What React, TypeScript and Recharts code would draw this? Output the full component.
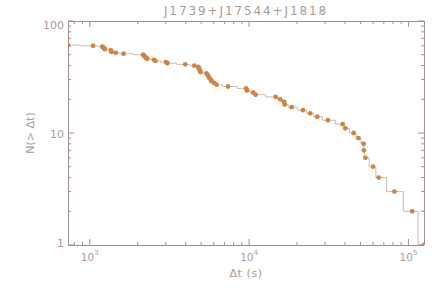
import { LineChart, Line, XAxis, YAxis } from 'recharts';

// waiting times (s), ascending, and cumulative count N(> dt)
const DT = [
    730, 1049, 1199, 1216, 1234, 1243, 1356, 1361, 1369, 1457,
    1629, 2164, 2186, 2218, 2250, 2293, 2526, 2582, 3006, 3072,
    3976, 4529, 4799, 4834, 4869, 4918, 4954, 5404, 5483, 5563,
    5628, 5742, 5818, 6025, 6245, 7379, 9575, 9714, 10597, 10987,
    14680, 15668, 16555, 16723, 18511, 21765, 24189, 26770, 31260, 38637,
    40180, 45290, 48470, 52360, 52500, 53650, 59980, 65060, 81660, 105500,
    125200
];
const N = [
    61, 60, 59, 58, 57, 56, 55, 54, 53, 52,
    51, 50, 49, 48, 47, 46, 45, 44, 43, 42,
    41, 40, 39, 38, 37, 36, 35, 34, 33, 32,
    31, 30, 29, 28, 27, 26, 25, 24, 23, 22,
    21, 20, 19, 18, 17, 16, 15, 14, 13, 12,
    11, 10, 9, 8, 7, 6, 5, 4, 3, 2,
    1
];

const X_TICKS = [
    800, 900, 1000, 2000, 3000, 4000, 5000, 6000, 7000, 8000, 9000,
    10000, 20000, 30000, 40000, 50000, 60000, 70000, 80000, 90000, 100000
];
const X_MAJOR = [1000, 10000, 100000];
const Y_TICKS = [1, 2, 3, 4, 5, 6, 7, 8, 9, 10, 20, 30, 40, 50, 60, 70, 80, 90, 100];
const Y_MAJOR = [1, 10, 100];
const Y_LABEL_DY: Record<number, number> = { 1: 1.5, 10: 4.5, 100: 8 };

const FRAME = '#a38f8f';
const TEXT = '#ab9a9a';
const LINE = '#c9bbbb';
const DOT = '#cf8443';
const FONT = 'DejaVu Sans';

const data = DT.map((dt, i) => ({ dt, n: N[i] }));

const BottomTick = (props: any) => {
    const { x, y, payload } = props;
    const v = payload.value;
    const major = X_MAJOR.includes(v);
    return (
        <g>
            <line x1={x} x2={x} y1={y} y2={y - (major ? 6 : 3)} stroke={FRAME} />
            {major && (
                <text x={x} y={y + 16} textAnchor="middle" fill={TEXT} fontSize={10.5} fontFamily={FONT}>
                    10<tspan dy={-6} fontSize={7}>{Math.round(Math.log10(v))}</tspan>
                </text>
            )}
        </g>
    );
};

const TopTick = (props: any) => {
    const { x, y, payload } = props;
    const major = X_MAJOR.includes(payload.value);
    return <line x1={x} x2={x} y1={y} y2={y + (major ? 6 : 3)} stroke={FRAME} />;
};

const LeftTick = (props: any) => {
    const { x, y, payload } = props;
    const v = payload.value;
    const major = Y_MAJOR.includes(v);
    return (
        <g>
            <line x1={x} x2={x + (major ? 6 : 3)} y1={y} y2={y} stroke={FRAME} />
            {major && (
                <text x={x - 4} y={y + Y_LABEL_DY[v]} textAnchor="end" fill={TEXT} fontSize={11} fontFamily={FONT}>
                    {v}
                </text>
            )}
        </g>
    );
};

const RightTick = (props: any) => {
    const { x, y, payload } = props;
    const major = Y_MAJOR.includes(payload.value);
    return <line x1={x} x2={x - (major ? 6 : 3)} y1={y} y2={y} stroke={FRAME} />;
};

const axisLine = { stroke: FRAME, shapeRendering: 'crispEdges' };

export default function App() {
    return (
        <div style={{ position: 'relative', width: 445, height: 289, background: '#fff' }}>
            <style>{'body{margin:0}'}</style>
            <LineChart width={445} height={289} data={data} margin={{ top: 0, right: 0, bottom: 0, left: 0 }}>
                <XAxis
                    dataKey="dt"
                    type="number"
                    scale="log"
                    domain={[730, 125200]}
                    allowDataOverflow
                    ticks={X_TICKS}
                    interval={0}
                    height={44}
                    tickSize={0}
                    tickMargin={0}
                    tickLine={false}
                    axisLine={axisLine}
                    tick={<BottomTick />}
                />
                <XAxis
                    xAxisId="top"
                    orientation="top"
                    dataKey="dt"
                    type="number"
                    scale="log"
                    domain={[730, 125200]}
                    allowDataOverflow
                    ticks={X_TICKS}
                    interval={0}
                    height={21}
                    tickSize={0}
                    tickMargin={0}
                    tickLine={false}
                    axisLine={axisLine}
                    tick={<TopTick />}
                />
                <YAxis
                    type="number"
                    scale="log"
                    domain={[1, 100]}
                    allowDataOverflow
                    ticks={Y_TICKS}
                    interval={0}
                    width={68}
                    tickSize={0}
                    tickMargin={0}
                    tickLine={false}
                    axisLine={axisLine}
                    tick={<LeftTick />}
                />
                <YAxis
                    yAxisId="right"
                    orientation="right"
                    type="number"
                    scale="log"
                    domain={[1, 100]}
                    allowDataOverflow
                    ticks={Y_TICKS}
                    interval={0}
                    width={21}
                    tickSize={0}
                    tickMargin={0}
                    tickLine={false}
                    axisLine={axisLine}
                    tick={<RightTick />}
                />
                <Line
                    xAxisId="top"
                    yAxisId="right"
                    dataKey="n"
                    stroke="none"
                    dot={false}
                    activeDot={false}
                    isAnimationActive={false}
                />
                <Line
                    type="step"
                    dataKey="n"
                    stroke={LINE}
                    strokeWidth={1}
                    dot={{ r: 2.4, fill: DOT, stroke: DOT, strokeWidth: 0, clipDot: true }}
                    activeDot={false}
                    isAnimationActive={false}
                />
            </LineChart>
            <svg width={445} height={289} style={{ position: 'absolute', left: 0, top: 0, pointerEvents: 'none' }}>
                <text x={246} y={15} textAnchor="middle" fill={TEXT} fontSize={12} letterSpacing={1.9} fontFamily={FONT}>
                    J1739+J17544+J1818
                </text>
                <text x={246} y={277} textAnchor="middle" fill={TEXT} fontSize={11} letterSpacing={0.6} fontFamily={FONT}>
                    Δt (s)
                </text>
                <text transform="translate(34,133) rotate(-90)" x={0} y={0} textAnchor="middle" fill={TEXT} fontSize={11} fontFamily={FONT}>
                    N(&gt; Δt)
                </text>
            </svg>
        </div>
    );
}
